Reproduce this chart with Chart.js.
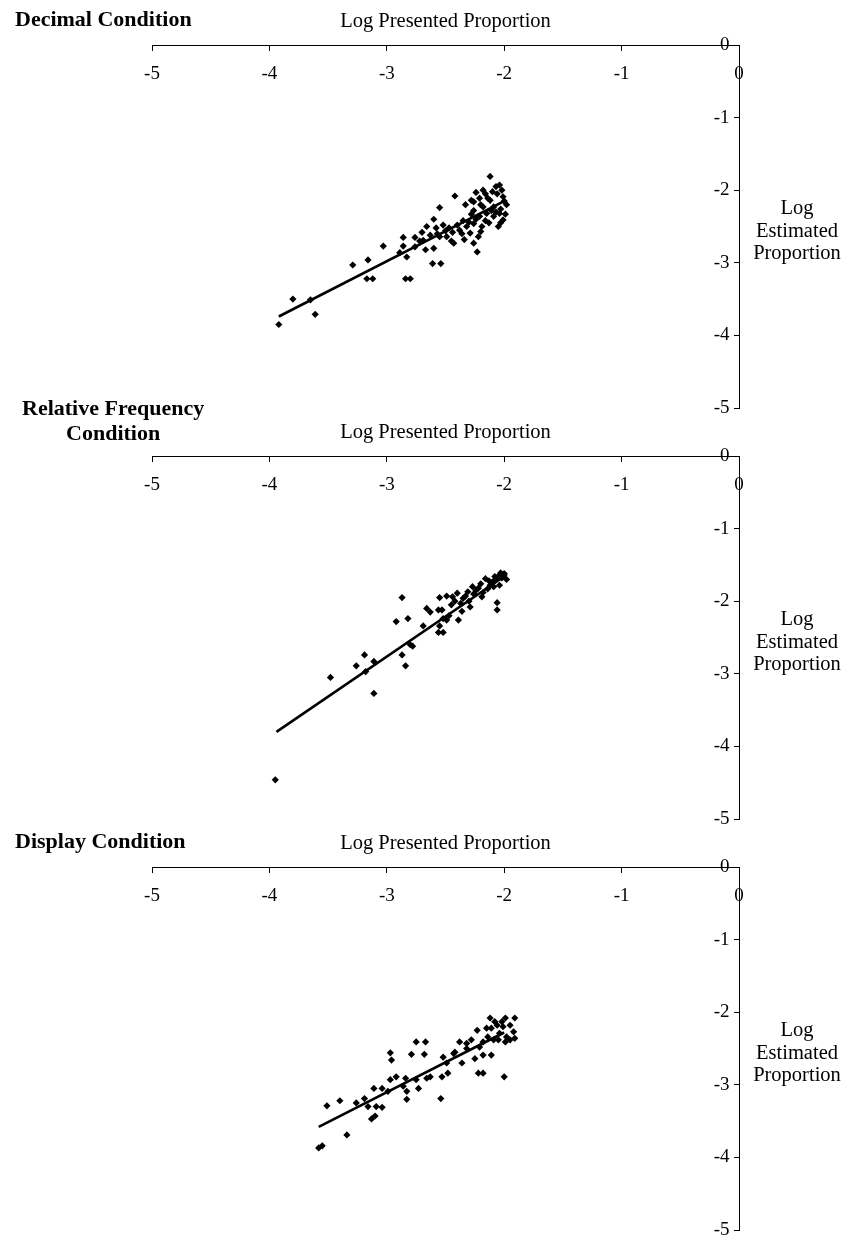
<!DOCTYPE html>
<html>
<head>
<meta charset="utf-8">
<title>Log estimated vs presented proportion</title>
<script src="https://cdn.jsdelivr.net/npm/chart.js@4.4.1/dist/chart.umd.min.js"></script>
<style>
  body { margin: 0; background: #fff; width: 849px; height: 1258px; position: relative; overflow: hidden;
         font-family: "Liberation Serif", "Times New Roman", serif; color: #000; }
  canvas { position: absolute; left: 0; }
  .cond { position: absolute; font-weight: bold; font-size: 22px; line-height: 25px; text-align: center; white-space: nowrap; }
  .xtitle { position: absolute; left: 152px; width: 587px; text-align: center; font-size: 20.5px; line-height: 24px; }
  .ytitle { position: absolute; left: 747px; width: 100px; text-align: center; font-size: 20.5px; line-height: 22.5px; }
</style>
</head>
<body>

<canvas id="panel1" width="849" height="424" style="top:0px"></canvas>
<canvas id="panel2" width="849" height="424" style="top:411px"></canvas>
<canvas id="panel3" width="849" height="424" style="top:822px"></canvas>

<div class="cond" style="left:15px; top:6px">Decimal Condition</div>
<div class="cond" style="left:22px; top:395px">Relative Frequency<br>Condition</div>
<div class="cond" style="left:15px; top:828px">Display Condition</div>

<div class="xtitle" style="top:8px">Log Presented Proportion</div>
<div class="xtitle" style="top:419px">Log Presented Proportion</div>
<div class="xtitle" style="top:830px">Log Presented Proportion</div>

<div class="ytitle" style="top:196px">Log<br>Estimated<br>Proportion</div>
<div class="ytitle" style="top:607px">Log<br>Estimated<br>Proportion</div>
<div class="ytitle" style="top:1018px">Log<br>Estimated<br>Proportion</div>

<script>
// axis ticks (log10 units)
const xTicks = [-5, -4, -3, -2, -1, 0];
const yTicks = [-5, -4, -3, -2, -1, 0];

// Decimal condition
const decimalX = [-3.92, -3.80, -3.65, -3.61, -3.29, -3.16, -3.17, -3.12, -3.03, -2.86,
                  -2.86, -2.89, -2.83, -2.84, -2.80, -2.76, -2.66, -2.60, -2.55, -2.67,
                  -2.61, -2.54, -2.60, -2.49, -2.42, -2.43, -2.38, -2.32, -2.33, -2.26,
                  -2.23, -2.26, -2.18, -2.12, -2.04, -2.01, -1.98, -2.01, -2.05, -2.09,
                  -2.15, -2.21, -2.26, -2.29, -2.22, -2.09, -2.14, -2.21, -2.18, -2.04,
                  -2.55, -2.40, -2.69, -2.76, -2.07, -2.02, -2.00, -2.06, -2.10, -2.12,
                  -2.03, -2.07, -2.11, -2.16, -2.19, -2.13, -2.24, -2.28, -2.30, -2.35,
                  -2.36, -2.44, -2.47, -2.50, -2.52, -2.57, -2.63, -2.72, -2.26, -2.20,
                  -2.16, -2.24, -1.99, -2.03, -2.34, -2.45, -2.20, -2.28, -2.70, -2.58];
const decimalY = [-3.85, -3.50, -3.51, -3.71, -3.03, -2.96, -3.22, -3.22, -2.77, -2.65,
                  -2.77, -2.86, -2.92, -3.22, -3.22, -2.65, -2.50, -2.40, -2.24, -2.82,
                  -3.01, -3.01, -2.80, -2.64, -2.08, -2.73, -2.55, -2.50, -2.20, -2.73,
                  -2.85, -2.16, -2.00, -1.81, -1.93, -2.09, -2.20, -2.41, -2.50, -2.36,
                  -2.32, -2.36, -2.46, -2.59, -2.64, -2.23, -2.11, -2.11, -2.23, -2.32,
                  -2.64, -2.48, -2.69, -2.78, -1.95, -2.00, -2.15, -2.05, -2.02, -2.14,
                  -2.26, -2.30, -2.28, -2.42, -2.50, -2.45, -2.40, -2.33, -2.44, -2.42,
                  -2.60, -2.58, -2.52, -2.56, -2.48, -2.60, -2.62, -2.70, -2.28, -2.20,
                  -2.05, -2.03, -2.33, -2.45, -2.68, -2.70, -2.57, -2.14, -2.58, -2.52];
const decimalFitX = [-3.92, -2.00];
const decimalFitY = [-3.74, -2.15];

// Relative frequency condition
const relFreqX = [-3.95, -3.48, -3.26, -3.19, -3.18, -3.11, -3.11, -2.87, -2.92, -2.82,
                  -2.87, -2.84, -2.80, -2.78, -2.69, -2.66, -2.63, -2.56, -2.53, -2.55,
                  -2.49, -2.44, -2.40, -2.52, -2.47, -2.49, -2.55, -2.56, -2.52, -2.39,
                  -2.37, -2.35, -2.29, -2.31, -2.27, -2.24, -2.19, -2.16, -2.20, -2.12,
                  -2.09, -2.06, -2.04, -2.00, -1.98, -2.06, -2.06, -2.09, -2.04, -2.22,
                  -2.18, -2.14, -2.10, -2.02, -2.00, -2.03, -2.08, -2.13, -2.26, -2.33,
                  -2.42, -2.45, -2.36, -2.30];
const relFreqY = [-4.46, -3.05, -2.89, -2.74, -2.97, -2.83, -3.27, -1.95, -2.28, -2.24,
                  -2.74, -2.89, -2.60, -2.62, -2.34, -2.10, -2.15, -2.12, -2.12, -1.95,
                  -1.93, -1.94, -1.89, -2.24, -2.20, -2.26, -2.34, -2.43, -2.43, -2.26,
                  -2.03, -1.96, -2.08, -1.87, -1.80, -1.85, -1.94, -1.69, -1.76, -1.78,
                  -1.72, -1.68, -1.64, -1.64, -1.70, -2.02, -2.12, -1.80, -1.78, -1.82,
                  -1.88, -1.83, -1.75, -1.68, -1.62, -1.61, -1.66, -1.72, -1.90, -1.93,
                  -2.00, -2.05, -2.14, -2.00];
const relFreqFitX = [-3.94, -2.00];
const relFreqFitY = [-3.80, -1.66];

// Display condition
const displayX = [-3.58, -3.55, -3.51, -3.40, -3.34, -3.26, -3.19, -3.16, -3.13, -3.10,
                  -3.09, -3.04, -3.11, -3.04, -2.99, -2.97, -2.92, -2.97, -2.96, -2.86,
                  -2.83, -2.83, -2.84, -2.79, -2.75, -2.67, -2.68, -2.75, -2.73, -2.66,
                  -2.63, -2.53, -2.54, -2.52, -2.48, -2.49, -2.43, -2.38, -2.36, -2.32,
                  -2.23, -2.25, -2.22, -2.18, -2.18, -2.12, -2.11, -1.99, -1.91, -2.00,
                  -2.06, -2.01, -1.95, -2.04, -1.98, -1.92, -2.05, -1.99, -1.95, -2.09,
                  -2.14, -2.18, -2.21, -2.08, -2.02, -2.11, -2.15, -1.91, -2.28, -2.32,
                  -2.42];
const displayY = [-3.87, -3.84, -3.29, -3.22, -3.69, -3.25, -3.19, -3.30, -3.47, -3.43,
                  -3.30, -3.31, -3.05, -3.05, -3.09, -2.93, -2.89, -2.56, -2.66, -3.02,
                  -3.09, -3.20, -2.91, -2.58, -2.41, -2.41, -2.58, -2.93, -3.05, -2.91,
                  -2.89, -2.89, -3.19, -2.62, -2.84, -2.70, -2.57, -2.41, -2.70, -2.43,
                  -2.25, -2.64, -2.84, -2.84, -2.59, -2.08, -2.59, -2.08, -2.08, -2.89,
                  -2.18, -2.20, -2.18, -2.29, -2.34, -2.27, -2.38, -2.41, -2.38, -2.38,
                  -2.34, -2.41, -2.48, -2.13, -2.13, -2.22, -2.22, -2.36, -2.38, -2.50,
                  -2.55];
const displayFitX = [-3.58, -2.00];
const displayFitY = [-3.58, -2.28];

const tickFont = { family: 'Liberation Serif', size: 19 };

function toPoints(xs, ys) {
    return xs.map((x, i) => ({ x: x, y: ys[i] }));
}

// one panel: x axis sits on y = 0, y axis sits on x = 0
function makePanel(canvasId, xs, ys, fitX, fitY) {
    const ctx = document.getElementById(canvasId).getContext('2d');
    return new Chart(ctx, {
        type: 'scatter',
        data: {
            datasets: [{
                data: toPoints(xs, ys),
                pointStyle: 'rectRot',
                pointRadius: 3.6,
                backgroundColor: '#000',
                borderColor: '#000',
                borderWidth: 0,
                order: 2
            }, {
                type: 'line',
                data: toPoints(fitX, fitY),
                showLine: true,
                borderColor: '#000',
                borderWidth: 2.6,
                pointRadius: 0,
                fill: false,
                order: 1
            }]
        },
        options: {
            responsive: false,
            animation: false,
            layout: { padding: { left: 152, right: 110, top: 45, bottom: 16 } },
            plugins: { legend: { display: false }, tooltip: { enabled: false } },
            scales: {
                x: {
                    type: 'linear',
                    position: { y: 0 },
                    min: xTicks[0],
                    max: xTicks[xTicks.length - 1],
                    afterBuildTicks: s => { s.ticks = xTicks.map(v => ({ value: v })); },
                    ticks: { color: '#000', font: tickFont, padding: 13, maxRotation: 0 },
                    grid: { drawOnChartArea: false, tickLength: 5, color: '#000' },
                    border: { color: '#000', width: 1 }
                },
                y: {
                    type: 'linear',
                    position: { x: 0 },
                    min: yTicks[0],
                    max: yTicks[yTicks.length - 1],
                    afterBuildTicks: s => { s.ticks = yTicks.map(v => ({ value: v })); },
                    // labels sit left of the axis line; the en space keeps them off the tick marks
                    ticks: { color: '#000', font: tickFont, padding: 4, callback: v => v + '\u2002' },
                    grid: { drawOnChartArea: false, tickLength: 5, color: '#000' },
                    border: { color: '#000', width: 1 }
                }
            }
        }
    });
}

makePanel('panel1', decimalX, decimalY, decimalFitX, decimalFitY);
makePanel('panel2', relFreqX, relFreqY, relFreqFitX, relFreqFitY);
makePanel('panel3', displayX, displayY, displayFitX, displayFitY);
</script>
</body>
</html>
